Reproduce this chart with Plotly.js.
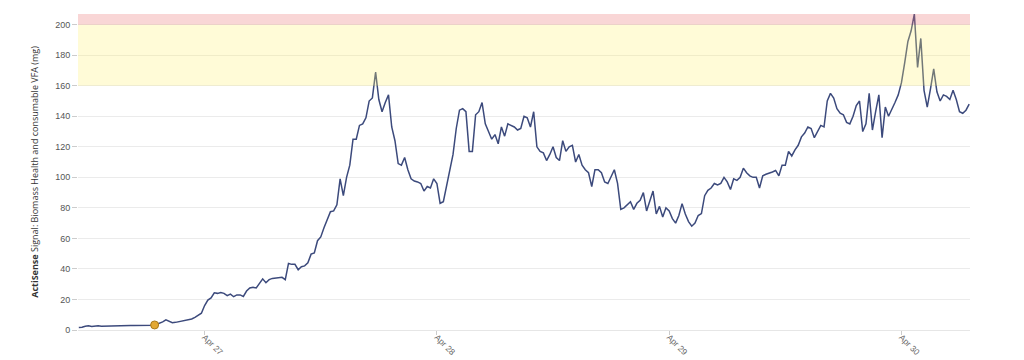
<!DOCTYPE html>
<html>
<head>
<meta charset="utf-8">
<script src="https://cdn.plot.ly/plotly-3.0.1.min.js"></script>
<style>html,body{margin:0;padding:0;background:#fff;}#chart{width:1024px;height:360px;}</style>
</head>
<body>
<div id="chart"></div>
<script>
// Series: readings every 20 minutes starting Apr 26 11:00
const seriesStart = '2024-04-26T11:00:00';
const stepMinutes = 20;
const signalValues = [
1.7,1.8,2.5,2.8,2.3,2.5,2.8,2.4,2.5,2.7,
2.8,2.8,2.9,2.9,2.9,3.0,3.0,3.0,3.0,3.0,
3.1,3.0,3.3,3.1,3.6,4.2,5.3,6.6,5.5,4.8,
5.0,5.4,5.5,5.9,6.3,7.2,8.3,9.5,11,16,
19.6,21,24.4,24,24.5,24,22.5,23.5,21.8,23,
23,22,25.5,27.5,28,27.5,30.5,33.5,31,33,
33.8,34,34.4,34.5,33,43.6,43,43,39.5,41.5,
42,44,49.7,50.5,58.5,61,67,72.5,77.5,78,
82,99,88,100,108,125,125,134,135,139,
150,152,169,151,143,149,154,133,124,109,
108,113,105,99,97.6,97,96,91,94,93,
99,96,83,84,93.7,105,115,132,144,145,
143,117,117,141,143,149,135,130,125,128,
122,133,127,135,134,133,131,132,140,139,
133,143,120,117,116,111,115,120,113,111,
124,117,120,121,110,115,108,105,103,94,
105,105,103,97,96,101,105,96,79,80,
82,84,79,83,85,90,78,84,91,76,
81,74,80,78,73,70,75,82.8,76,71,
68,70,75,76.3,88,91.5,93,96,95,96,
100,97,92,99,98,100,106,103,101,100,
100,93,101,102,102.5,103.5,104.5,101,108,108,
117,114,118,121,126.5,129,133,132,126,130,
134,133,150,155,152,145,142,141,136,135,
140,147,150,130,135,155,131,143,154,126,
146,140,144,149,154,162,175,189,196,207,
172,191,157,146,158,171,156,150,154,153,
151,157,151,143,142,144,148
];
// Event marker
const markerTimes = ['2024-04-26 18:50:00'];
const markerValues = [3.3];
// Threshold bands
const warnBand = [160, 200];
const alarmBand = [200, 207];
const yTickVals = [0,20,40,60,80,100,120,140,160,180,200];

function pad(n){return (n<10?'0':'')+n;}
function fmt(d){
  return d.getUTCFullYear()+'-'+pad(d.getUTCMonth()+1)+'-'+pad(d.getUTCDate())+' '+pad(d.getUTCHours())+':'+pad(d.getUTCMinutes())+':00';
}
const t0 = new Date(seriesStart+'Z').getTime();
const signalTimes = signalValues.map((v,i)=>fmt(new Date(t0 + i*stepMinutes*60000)));

const traces = [
  {x: signalTimes, y: signalValues, type:'scatter', mode:'lines',
   line:{color:'#3c4a7c', width:1.5}, hoverinfo:'x+y', showlegend:false},
  {x: markerTimes, y: markerValues, type:'scatter', mode:'markers',
   marker:{color:'#e3a935', size:8, line:{color:'#a97a1c', width:1}}, showlegend:false}
];

const layout = {
  width:1024, height:360,
  margin:{l:78, r:54, t:14, b:30},
  paper_bgcolor:'#ffffff', plot_bgcolor:'#ffffff',
  font:{family:'Liberation Sans, Arial, sans-serif', color:'#555'},
  xaxis:{
    type:'date',
    range:['2024-04-26 10:55:00','2024-04-30 07:05:00'],
    tick0:'2024-04-27', dtick:86400000,
    tickformat:'%b %d', tickangle:45,
    tickfont:{size:8.5, color:'#666'},
    ticks:'outside', ticklen:4, tickcolor:'#cccccc',
    ticklabelstandoff:-6,
    showgrid:false, showline:true, linecolor:'#e6e6e6', linewidth:1,
    zeroline:false, automargin:false
  },
  yaxis:{
    range:[0,207],
    tickvals: yTickVals,
    tickfont:{size:9, color:'#555'},
    ticks:'outside', ticklen:5, tickcolor:'#cccccc',
    showgrid:true, gridcolor:'#ebebeb', gridwidth:1,
    zeroline:false, showline:false, automargin:false,
    title:{text:'<b>ActiSense</b> Signal: Biomass Health and consumable VFA (mg)',
      font:{family:'Open Sans, sans-serif', size:9, color:'#333'}, standoff:15}
  },
  shapes:[
    {type:'rect', xref:'paper', yref:'y', x0:0, x1:1, y0:warnBand[0], y1:warnBand[1],
     fillcolor:'rgba(255,240,110,0.28)', line:{width:0}, layer:'above'},
    {type:'rect', xref:'paper', yref:'y', x0:0, x1:1, y0:alarmBand[0], y1:alarmBand[1],
     fillcolor:'rgba(235,120,120,0.3)', line:{width:0}, layer:'above'}
  ]
};

Plotly.newPlot('chart', traces, layout, {displayModeBar:false, staticPlot:true});
</script>
</body>
</html>
